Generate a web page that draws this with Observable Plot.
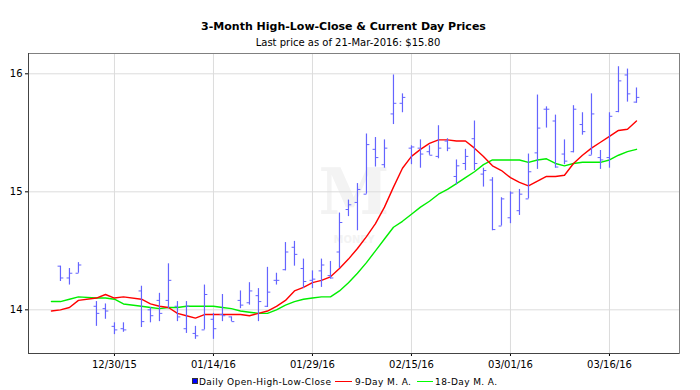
<!DOCTYPE html>
<html><head><meta charset="utf-8">
<script src="https://cdn.jsdelivr.net/npm/d3@7"></script>
<script src="https://cdn.jsdelivr.net/npm/@observablehq/plot@0.6"></script>
<style>
body{margin:0;background:#fff;font-family:"DejaVu Sans",sans-serif;color:#000;}
#wrap{position:relative;width:700px;height:390px;overflow:hidden;background:#fff;}
#t1{position:absolute;left:0;width:687px;top:21px;text-align:center;font-weight:bold;font-size:11px;line-height:11px;white-space:nowrap;}
#t2{position:absolute;left:0;width:696px;top:37.5px;text-align:center;font-size:10px;line-height:10px;white-space:nowrap;}
#chart{position:absolute;left:0;top:48px;}
.lg{position:absolute;font-size:9px;line-height:9px;top:377.5px;white-space:nowrap;letter-spacing:0.4px;}
.sw{position:absolute;}
</style></head>
<body><div id="wrap">
<div id="t1">3-Month High-Low-Close &amp; Current Day Prices</div>
<div id="t2">Last price as of 21-Mar-2016: $15.80</div>
<div id="chart"></div>
<div class="sw" style="left:191.5px;top:377.5px;width:4px;height:4px;background:#0000ff;border:0.5px solid #333;"></div>
<div class="lg" style="left:199px;">Daily Open-High-Low-Close</div>
<div class="sw" style="left:335px;top:380.5px;width:17px;height:1.5px;background:#ff0000;"></div>
<div class="lg" style="left:355px;">9-Day M. A.</div>
<div class="sw" style="left:416.5px;top:380.5px;width:16px;height:1.5px;background:#00ff00;"></div>
<div class="lg" style="left:435px;">18-Day M. A.</div>
</div>
<script>
const dates = [
"2015-12-22","2015-12-23","2015-12-24","2015-12-28","2015-12-29","2015-12-30","2015-12-31",
"2016-01-04","2016-01-05","2016-01-06","2016-01-07","2016-01-08",
"2016-01-11","2016-01-12","2016-01-13","2016-01-14","2016-01-15",
"2016-01-18","2016-01-19","2016-01-20","2016-01-21","2016-01-22",
"2016-01-25","2016-01-26","2016-01-27","2016-01-28","2016-01-29",
"2016-02-01","2016-02-02","2016-02-03","2016-02-04","2016-02-05",
"2016-02-08","2016-02-09","2016-02-10","2016-02-11","2016-02-12",
"2016-02-15","2016-02-16","2016-02-17","2016-02-18","2016-02-19",
"2016-02-22","2016-02-23","2016-02-24","2016-02-25","2016-02-26",
"2016-02-29","2016-03-01","2016-03-02","2016-03-03","2016-03-04",
"2016-03-07","2016-03-08","2016-03-09","2016-03-10","2016-03-11",
"2016-03-14","2016-03-15","2016-03-16","2016-03-17","2016-03-18",
"2016-03-21"];
const open = [
14.37,14.27,14.31,14.03,14.01,13.86,13.84,
14.16,14.00,14.08,14.08,14.03,
13.84,13.80,13.83,13.92,13.96,
13.94,14.08,14.06,14.12,14.03,
14.25,14.34,14.53,14.35,14.25,
14.33,14.29,14.49,14.85,14.91,
14.98,15.36,15.23,15.66,15.75,
15.37,15.37,15.34,15.30,15.43,
15.13,15.24,15.45,15.15,15.10,
14.71,14.78,14.84,14.94,15.33,
15.70,15.60,15.32,15.34,15.57,
15.31,15.29,15.29,15.68,15.99,
15.76];
const high = [
14.37,14.35,14.40,14.07,14.05,13.89,13.89,
14.20,14.02,14.14,14.39,14.07,
14.07,13.86,14.21,13.97,14.13,
13.94,14.16,14.23,14.18,14.36,
14.31,14.57,14.58,14.43,14.33,
14.43,14.41,14.82,14.93,15.07,
15.49,15.46,15.44,15.99,15.83,
15.39,15.44,15.39,15.56,15.45,
15.27,15.36,15.60,15.20,15.12,
14.95,15.00,15.02,15.32,15.82,
15.72,15.65,15.44,15.73,15.67,
15.83,15.35,15.67,16.06,16.04,
15.88];
const low = [
14.24,14.21,14.31,13.86,13.92,13.79,13.81,
13.85,13.89,13.90,14.01,13.90,
13.80,13.75,13.83,13.75,13.90,
13.90,14.01,14.04,13.90,14.02,
14.21,14.33,14.37,14.18,14.18,
14.19,14.26,14.35,14.79,14.67,
14.98,15.21,15.20,15.57,15.67,
15.23,15.20,15.31,15.28,15.34,
15.06,15.18,15.18,15.04,14.67,
14.71,14.73,14.80,14.94,15.19,
15.54,15.20,15.23,15.33,15.48,
15.31,15.19,15.20,15.67,15.76,
15.75];
const close = [
14.27,14.31,14.38,13.97,13.99,13.83,13.83,
13.90,13.95,13.97,14.25,13.94,
14.03,13.78,14.13,13.84,13.95,
13.90,14.04,14.16,14.07,14.15,
14.25,14.49,14.47,14.24,14.26,
14.38,14.27,14.74,14.89,15.02,
15.40,15.29,15.37,15.75,15.80,
15.38,15.32,15.31,15.37,15.37,
15.22,15.30,15.24,15.18,14.68,
14.94,14.99,14.98,15.17,15.54,
15.70,15.21,15.26,15.70,15.51,
15.66,15.27,15.64,15.94,15.83,
15.80];
// moving averages start one session earlier (2015-12-21)
const maDates = ["2015-12-21"].concat(dates);
const ma9 = [
13.99,14.00,14.02,14.08,14.10,14.13,14.10,14.11,
14.09,14.05,14.03,14.02,13.97,
13.95,13.93,13.96,13.96,13.96,
13.96,13.96,13.95,13.97,13.99,
14.03,14.08,14.16,14.19,14.23,
14.25,14.28,14.35,14.43,14.52,
14.62,14.73,14.87,15.04,15.20,
15.30,15.36,15.41,15.44,15.44,
15.43,15.43,15.37,15.30,15.22,
15.18,15.12,15.08,15.05,15.09,
15.13,15.13,15.14,15.24,15.31,
15.37,15.42,15.47,15.52,15.53,
15.60];
const ma18 = [
14.07,14.07,14.09,14.11,14.10,14.10,14.09,14.05,
14.03,14.02,14.01,14.02,14.02,
14.03,14.03,14.03,14.03,14.02,
14.01,13.99,13.98,13.97,13.97,
14.00,14.04,14.07,14.09,14.10,
14.11,14.11,14.16,14.23,14.31,
14.40,14.50,14.60,14.70,14.75,
14.81,14.87,14.92,14.98,15.02,
15.07,15.12,15.17,15.23,15.27,
15.27,15.27,15.27,15.25,15.27,
15.28,15.24,15.22,15.24,15.25,
15.25,15.25,15.27,15.31,15.34,
15.36];
const tickDates = ["2015-12-30","2016-01-14","2016-01-29","2016-02-15","2016-03-01","2016-03-16"];
const tickLabels = ["12/30/15","01/14/16","01/29/16","02/15/16","03/01/16","03/16/16"];
const yTicks = [14, 15, 16];
const xDomain = [-3.55, 68.78];   // in weekdays from first bar
const yDomain = [13.63, 16.172];

// weekday index relative to first bar date
const origin = new Date(dates[0] + "T00:00:00Z");
function wd(s) {
  const d = new Date(s + "T00:00:00Z");
  const step = d >= origin ? 1 : -1;
  let n = 0, t = new Date(origin);
  while (t.getTime() !== d.getTime()) {
    t.setUTCDate(t.getUTCDate() + step);
    const w = t.getUTCDay();
    if (w !== 0 && w !== 6) n += step;
  }
  return n;
}
const bars = dates.map((s, k) => ({i: wd(s), o: open[k], h: high[k], l: low[k], c: close[k]}));
const maRows = maDates.map((s, k) => ({i: wd(s), a: ma9[k], b: ma18[k]}));
const tickIdx = tickDates.map(wd);
const labelOf = new Map(tickIdx.map((v, k) => [v, tickLabels[k]]));

const blue = "#6464ff";
const chart = Plot.plot({
  width: 700, height: 322,
  marginLeft: 28, marginRight: 21, marginTop: 5, marginBottom: 17,
  style: {fontFamily: "DejaVu Sans", fontSize: "10px", background: "transparent", color: "#000", overflow: "visible"},
  x: {type: "linear", domain: xDomain, ticks: tickIdx, tickFormat: d => labelOf.get(d), tickSize: 3, tickPadding: 4, label: null},
  y: {domain: yDomain, ticks: yTicks, tickFormat: d => String(d), tickSize: 3, tickPadding: 3, label: null},
  marks: [
    Plot.text(["M"], {frameAnchor: "middle", dy: -10, fontSize: 64, fontWeight: "bold", fontFamily: "DejaVu Serif", fill: "#f3f3f3"}),
    Plot.text(["MONEY"], {frameAnchor: "middle", dy: 36, fontSize: 10, fontWeight: "bold", fill: "#f3f3f3"}),
    Plot.ruleY(yTicks, {stroke: "#dcdcdc"}),
    Plot.ruleX(tickIdx, {stroke: "#dcdcdc"}),
    Plot.frame({stroke: "#808080"}),
    Plot.ruleX([xDomain[0]], {stroke: "#444"}),
    Plot.ruleY([yDomain[0]], {stroke: "#444"}),
    Plot.line(maRows, {x: "i", y: "b", stroke: "#00ee00", strokeWidth: 1.4}),
    Plot.line(maRows, {x: "i", y: "a", stroke: "#ff0000", strokeWidth: 1.4}),
    Plot.ruleX(bars, {x: "i", y1: "l", y2: "h", stroke: blue, strokeWidth: 1.2}),
    Plot.link(bars, {x1: d => d.i - 0.32, x2: "i", y1: "o", y2: "o", stroke: blue, strokeWidth: 1}),
    Plot.link(bars, {x1: "i", x2: d => d.i + 0.32, y1: "c", y2: "c", stroke: blue, strokeWidth: 1})
  ]
});
document.getElementById("chart").appendChild(chart);
</script>
</body></html>
